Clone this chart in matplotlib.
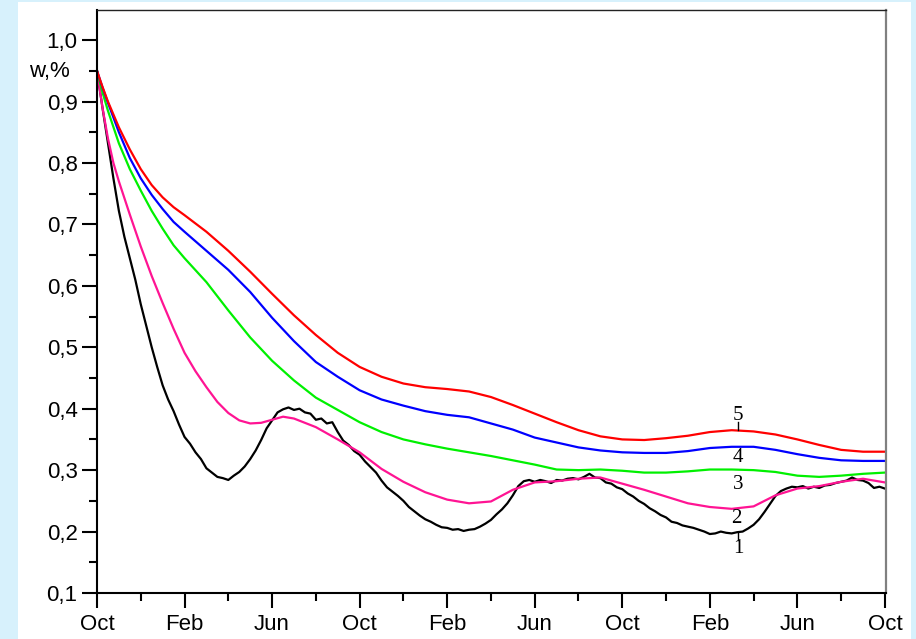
import numpy as np
import matplotlib
matplotlib.use("Agg")
import matplotlib.pyplot as plt
from matplotlib.patches import Rectangle
from matplotlib.ticker import MultipleLocator, FixedLocator, FixedFormatter, FuncFormatter

# Months from the first October
month_ticks = [0, 4, 8, 12, 16, 20, 24, 28, 32, 36]
month_labels = ["Oct", "Feb", "Jun", "Oct", "Feb", "Jun", "Oct", "Feb", "Jun", "Oct"]

# Curve 1 (black), sampled every quarter month
m1 = np.arange(0, 36.01, 0.25)
w1 = [0.950, 0.890, 0.832, 0.775, 0.722, 0.680, 0.645, 0.610, 0.570, 0.535,
      0.500, 0.468, 0.438, 0.415, 0.396, 0.374, 0.354, 0.343, 0.329, 0.318,
      0.303, 0.296, 0.289, 0.287, 0.284, 0.291, 0.297, 0.306, 0.318, 0.332,
      0.349, 0.368, 0.381, 0.394, 0.399, 0.402, 0.398, 0.400, 0.394, 0.392,
      0.382, 0.384, 0.376, 0.378, 0.362, 0.348, 0.341, 0.331, 0.325, 0.314,
      0.305, 0.296, 0.283, 0.272, 0.265, 0.258, 0.250, 0.240, 0.233, 0.226,
      0.220, 0.216, 0.211, 0.207, 0.206, 0.203, 0.204, 0.201, 0.203, 0.204,
      0.208, 0.213, 0.219, 0.228, 0.236, 0.246, 0.259, 0.274, 0.282, 0.284,
      0.281, 0.284, 0.282, 0.279, 0.284, 0.283, 0.286, 0.287, 0.285, 0.289,
      0.294, 0.288, 0.287, 0.280, 0.278, 0.272, 0.269, 0.262, 0.257, 0.250,
      0.245, 0.238, 0.233, 0.227, 0.223, 0.216, 0.214, 0.210, 0.208, 0.206,
      0.203, 0.200, 0.196, 0.197, 0.200, 0.198, 0.197, 0.199, 0.200, 0.205,
      0.211, 0.220, 0.232, 0.245, 0.258, 0.266, 0.270, 0.273, 0.272, 0.274,
      0.270, 0.273, 0.271, 0.275, 0.276, 0.279, 0.281, 0.283, 0.288, 0.284,
      0.283, 0.279, 0.271, 0.273, 0.270]

# Curves 3-5, half-month steps for the first four months then monthly
m_s = [0, 0.25, 0.5, 1, 1.5, 2, 2.5, 3, 3.5, 4] + list(range(5, 37))
w5 = [0.950, 0.924, 0.900, 0.858, 0.822, 0.790, 0.764, 0.744, 0.728, 0.715,
      0.688, 0.657, 0.623, 0.587, 0.552, 0.520, 0.491, 0.468, 0.452, 0.441,
      0.435, 0.432, 0.428, 0.419, 0.406, 0.392, 0.378, 0.365, 0.355, 0.350,
      0.349, 0.352, 0.356, 0.362, 0.365, 0.363, 0.358, 0.350, 0.341, 0.333,
      0.330, 0.330]
w4 = [0.950, 0.923, 0.898, 0.850, 0.808, 0.775, 0.748, 0.725, 0.704, 0.688,
      0.657, 0.626, 0.590, 0.548, 0.510, 0.476, 0.452, 0.430, 0.415, 0.405,
      0.396, 0.390, 0.386, 0.376, 0.366, 0.353, 0.345, 0.337, 0.332, 0.329,
      0.328, 0.328, 0.331, 0.336, 0.338, 0.338, 0.333, 0.326, 0.320, 0.316,
      0.315, 0.315]
w3 = [0.950, 0.915, 0.885, 0.832, 0.790, 0.755, 0.722, 0.693, 0.666, 0.645,
      0.606, 0.560, 0.516, 0.478, 0.446, 0.418, 0.398, 0.378, 0.362, 0.350,
      0.342, 0.335, 0.329, 0.323, 0.316, 0.309, 0.301, 0.300, 0.301, 0.299,
      0.296, 0.296, 0.298, 0.301, 0.301, 0.300, 0.297, 0.291, 0.289, 0.291,
      0.294, 0.296]

# Curve 2 (pink), denser over its first dip
m2 = [0, 0.25, 0.5, 0.75, 1, 1.5, 2, 2.5, 3, 3.5, 4, 4.5, 5, 5.5, 6, 6.5, 7,
      7.5, 8, 8.5, 9] + list(range(10, 37))
w2 = [0.950, 0.890, 0.840, 0.800, 0.770, 0.716, 0.664, 0.616, 0.572, 0.530,
      0.491, 0.461, 0.435, 0.411, 0.393, 0.381, 0.376, 0.377, 0.382, 0.387,
      0.384, 0.370, 0.350, 0.329, 0.302, 0.281, 0.264, 0.252, 0.246, 0.249,
      0.268, 0.280, 0.282, 0.286, 0.288, 0.278, 0.268, 0.257, 0.246, 0.240,
      0.237, 0.241, 0.259, 0.270, 0.274, 0.281, 0.286, 0.280]

curve_labels = ["1", "2", "3", "4", "5"]
label_pos = [(29.3, 0.172), (29.2, 0.222), (29.3, 0.277), (29.3, 0.321), (29.3, 0.389)]

fig = plt.figure(figsize=(9.16, 6.39), dpi=100)
fig.patch.set_facecolor("#d7f1fc")
fig.add_artist(Rectangle((18 / 916, 0), (911 - 18) / 916, 1 - 2 / 639,
                         transform=fig.transFigure, facecolor="white",
                         edgecolor="none", zorder=-5))

ax = fig.add_axes([97 / 916, 46 / 639, 789 / 916, 583 / 639])
ax.set_zorder(2)
ax.set_facecolor("white")

lw = 1.6
ax.plot(m1, w1, color="black", lw=lw)
ax.plot(m2, w2, color="#ff1493", lw=lw)
ax.plot(m_s, w3, color="#00f000", lw=lw)
ax.plot(m_s, w4, color="#0000ff", lw=lw)
ax.plot(m_s, w5, color="#ff0000", lw=lw)

ax.set_xlim(0, 36.05)
ax.set_ylim(0.1, 1.049)

ax.xaxis.set_major_locator(FixedLocator(month_ticks))
ax.xaxis.set_major_formatter(FixedFormatter(month_labels))
ax.xaxis.set_minor_locator(MultipleLocator(2))
ax.yaxis.set_major_locator(MultipleLocator(0.1))
ax.yaxis.set_minor_locator(MultipleLocator(0.05))
ax.yaxis.set_major_formatter(FuncFormatter(lambda v, p: f"{v:.1f}".replace(".", ",")))

ax.tick_params(axis="both", which="major", direction="out", length=11, width=1.5,
               labelsize=16, color="black")
ax.tick_params(axis="both", which="minor", direction="out", length=6, width=1.5)
ax.tick_params(axis="x", pad=4)
ax.tick_params(axis="y", pad=3)
for lab in ax.get_xticklabels() + ax.get_yticklabels():
    lab.set_family("Liberation Sans")

ax.spines["left"].set_linewidth(1.5)
ax.spines["bottom"].set_linewidth(1.5)
ax.spines["top"].set_linewidth(1.0)
ax.spines["top"].set_color("#222222")
ax.spines["right"].set_linewidth(1.6)
ax.spines["right"].set_color("#808080")

fig.text(49 / 916, 1 - 71 / 639, "w,%", family="Liberation Sans", fontsize=16,
         ha="center", va="center")

for txt, (x, y) in zip(curve_labels, label_pos):
    ax.text(x, y, txt, family="Liberation Serif", fontsize=15,
            ha="center", va="center")

# small leader strokes for curves 5 and 1
ax.plot([29.3, 29.3], [0.365, 0.378], color="black", lw=1)
ax.plot([29.3, 29.3], [0.186, 0.198], color="black", lw=1)

fig.savefig("out.png", dpi=100, facecolor=fig.get_facecolor())
